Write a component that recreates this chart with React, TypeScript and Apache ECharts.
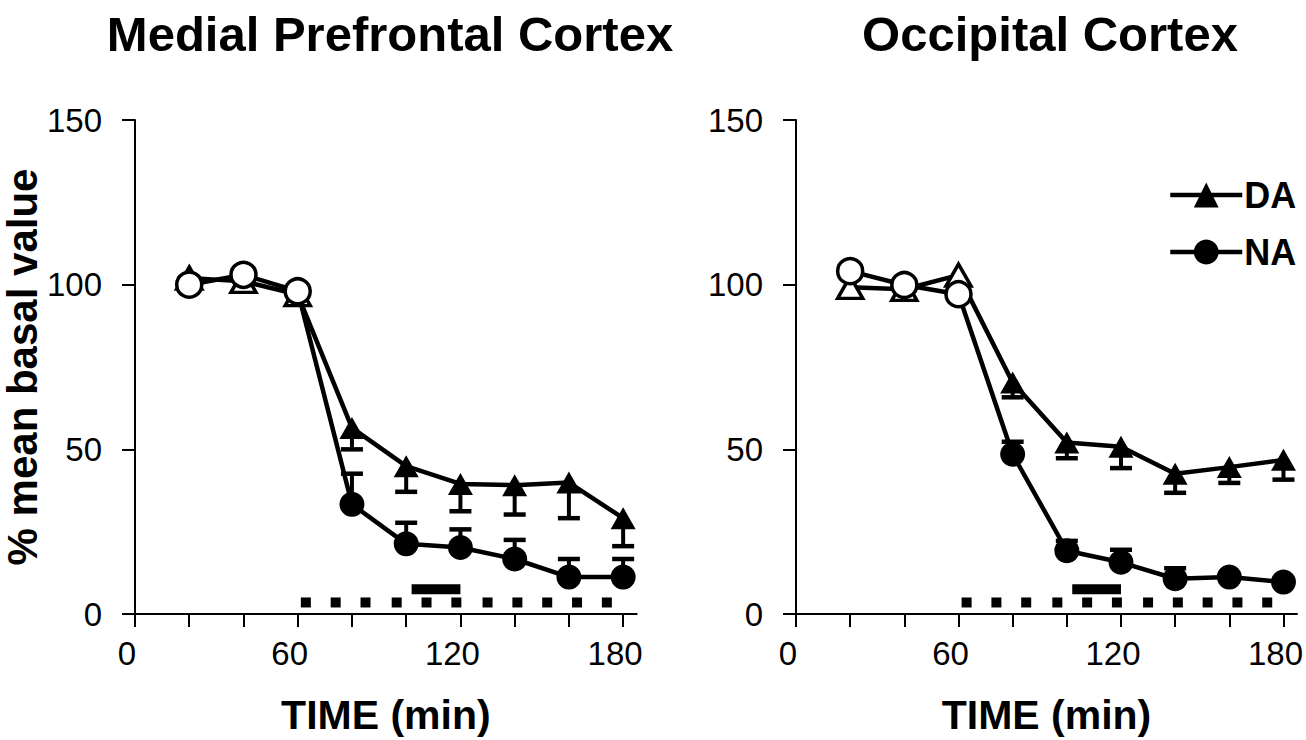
import React, { useEffect, useRef } from "react";
import * as echarts from "echarts";

// ---- data ----
const times = [20, 40, 60, 80, 100, 120, 140, 160, 180];
const baselineOpen = [true, true, true, false, false, false, false, false, false];

const mpcDA = [102, 101, 97, 56.5, 44.9, 39.5, 39.1, 39.9, 29.1];
const mpcDAerr = [null, null, null, 6.5, 7.8, 8.3, 8.9, 10.8, 8.5];
const mpcNA = [100, 103, 98, 33.3, 21.3, 20.2, 16.7, 11.2, 11.2];
const mpcNAerr = [null, null, null, 9.3, 6.4, 5.5, 5.8, 5.5, 5.5];

const occDA = [99.2, 98.6, 102.9, 70.3, 52.1, 50.8, 42.6, 44.6, 46.8];
const occDAerr = [null, null, null, 4.5, 4.8, 6.5, 5.8, 4.8, 6];
const occNA = [104.1, 99.9, 97.1, 48.5, 19.2, 15.7, 10.7, 11.2, 9.7];
const occNAerr = [null, null, null, 3.8, 3, 3.8, 3.2, 1, 1];

const squaresX = [63, 74, 85, 96.5, 107.5, 118.5, 130, 141, 152, 163, 174];
const squareLevel = 3.5;
const barX = [102, 120];
const barLevel = 7.5;

const xTickValues = [0, 20, 40, 60, 80, 100, 120, 140, 160, 180];
const xLabelValues = [0, 60, 120, 180];
const panelTitles = ["Medial Prefrontal Cortex", "Occipital Cortex"];
const seriesNames = ["DA", "NA"];

const FONT = "'Liberation Sans', Arial, Helvetica, sans-serif";

function markerData(vals: number[]) {
  return vals.map((v, i) =>
    baselineOpen[i]
      ? { value: [times[i], v], itemStyle: { color: "#fff", borderColor: "#000", borderWidth: 3.5 } }
      : { value: [times[i], v], itemStyle: { color: "#000", borderWidth: 0 } }
  );
}

function errData(vals: number[], errs: (number | null)[], sign: number) {
  const out: number[][] = [];
  vals.forEach((v, i) => {
    const e = errs[i];
    if (e != null) out.push([times[i], v, sign * e]);
  });
  return out;
}

function errorSeries(name: string, data: number[][], axis: number) {
  return {
    name,
    type: "custom",
    xAxisIndex: axis,
    yAxisIndex: axis,
    z: 1,
    data,
    renderItem: (params: any, api: any) => {
      const x = api.value(0);
      const y = api.value(1);
      const e = api.value(2);
      const p0 = api.coord([x, y]);
      const p1 = api.coord([x, y + e]);
      return {
        type: "group",
        children: [
          { type: "line", shape: { x1: p0[0], y1: p0[1], x2: p1[0], y2: p1[1] }, style: { stroke: "#000", lineWidth: 4 } },
          { type: "line", shape: { x1: p1[0] - 11, y1: p1[1], x2: p1[0] + 11, y2: p1[1] }, style: { stroke: "#000", lineWidth: 4.5 } },
        ],
      };
    },
  };
}

function lineSeries(name: string, vals: number[], axis: number, symbol: string, size: any) {
  return {
    name,
    type: "line",
    xAxisIndex: axis,
    yAxisIndex: axis,
    z: 3,
    data: markerData(vals),
    symbol,
    symbolSize: size,
    showAllSymbol: true,
    itemStyle: { color: "#000" },
    lineStyle: { color: "#000", width: 4.5 },
  };
}

function extraSeries(axis: number) {
  return [
    {
      name: "drug" + axis,
      type: "scatter",
      xAxisIndex: axis,
      yAxisIndex: axis,
      symbol: "rect",
      symbolSize: 10,
      itemStyle: { color: "#000", opacity: 1 },
      data: squaresX.map((x) => [x, squareLevel]),
      z: 2,
    },
    {
      name: "bar" + axis,
      type: "line",
      xAxisIndex: axis,
      yAxisIndex: axis,
      symbol: "none",
      lineStyle: { color: "#000", width: 10, cap: "butt" },
      data: barX.map((x) => [x, barLevel]),
      z: 2,
    },
  ];
}

function xAxis(grid: number) {
  return {
    type: "value",
    gridIndex: grid,
    min: 0,
    max: 185,
    interval: 20,
    splitLine: { show: false },
    axisLine: { show: true, onZero: false, lineStyle: { color: "#000", width: 2 } },
    axisTick: { show: true, length: 13, lineStyle: { color: "#000", width: 2 }, customValues: xTickValues },
    axisLabel: {
      customValues: xLabelValues,
      color: "#000",
      fontSize: 33,
      fontFamily: FONT,
      margin: 23,
      padding: [0, 16, 0, 0],
    },
    name: "TIME (min)",
    nameLocation: "middle",
    nameGap: 80,
    nameTextStyle: { color: "#000", fontSize: 41, fontWeight: "bold", fontFamily: FONT },
  };
}

function yAxis(grid: number, withName: boolean) {
  return {
    type: "value",
    gridIndex: grid,
    min: 0,
    max: 150,
    interval: 50,
    splitLine: { show: false },
    axisLine: { show: true, onZero: false, lineStyle: { color: "#000", width: 2 } },
    axisTick: { show: true, length: 13, lineStyle: { color: "#000", width: 2 } },
    axisLabel: { color: "#000", fontSize: 33, fontFamily: FONT, margin: 33 },
    name: withName ? "% mean basal value" : "",
    nameLocation: "middle",
    nameGap: 82,
    nameRotate: 90,
    nameTextStyle: { color: "#000", fontSize: 42, fontWeight: "bold", fontFamily: FONT },
  };
}

export default function App() {
  const ref = useRef<HTMLDivElement>(null);
  useEffect(() => {
    if (!ref.current) return;
    const chart = echarts.init(ref.current, null, { renderer: "svg" });
    const option: any = {
      animation: false,
      backgroundColor: "#fff",
      textStyle: { fontFamily: FONT },
      title: [
        {
          text: panelTitles[0],
          left: 390,
          top: 9,
          padding: 0,
          textAlign: "center",
          textStyle: { color: "#000", fontSize: 49, fontWeight: "bold", fontFamily: FONT },
        },
        {
          text: panelTitles[1],
          left: 1050,
          top: 9,
          padding: 0,
          textAlign: "center",
          textStyle: { color: "#000", fontSize: 49, fontWeight: "bold", fontFamily: FONT },
        },
      ],
      legend: {
        data: seriesNames,
        orient: "vertical",
        left: 1168,
        top: 177,
        padding: 0,
        itemWidth: 72,
        itemHeight: 31,
        itemGap: 21,
        lineStyle: { width: 4.5, color: "#000" },
        itemStyle: { color: "#000", borderWidth: 0 },
        textStyle: { color: "#000", fontSize: 36, fontWeight: "bold", fontFamily: FONT, padding: [0, 0, 0, -3] },
        selectedMode: false,
      },
      grid: [
        { left: 135, top: 120, width: 501.7, height: 499 },
        { left: 796, top: 120, width: 502.6, height: 499 },
      ],
      xAxis: [xAxis(0), xAxis(1)],
      yAxis: [yAxis(0, true), yAxis(1, false)],
      series: [
        errorSeries("mpcDAerr", errData(mpcDA, mpcDAerr, -1), 0),
        errorSeries("mpcNAerr", errData(mpcNA, mpcNAerr, 1), 0),
        errorSeries("occDAerr", errData(occDA, occDAerr, -1), 1),
        errorSeries("occNAerr", errData(occNA, occNAerr, 1), 1),
        ...extraSeries(0),
        ...extraSeries(1),
        lineSeries(seriesNames[0], mpcDA, 0, "triangle", [25, 22]),
        lineSeries(seriesNames[1], mpcNA, 0, "circle", 25),
        lineSeries(seriesNames[0], occDA, 1, "triangle", [25, 22]),
        lineSeries(seriesNames[1], occNA, 1, "circle", 25),
      ],
    };
    chart.setOption(option);
    return () => chart.dispose();
  }, []);
  return (
    <div
      ref={ref}
      style={{ position: "fixed", left: 0, top: 0, width: 1306, height: 740, background: "#fff" }}
    />
  );
}
